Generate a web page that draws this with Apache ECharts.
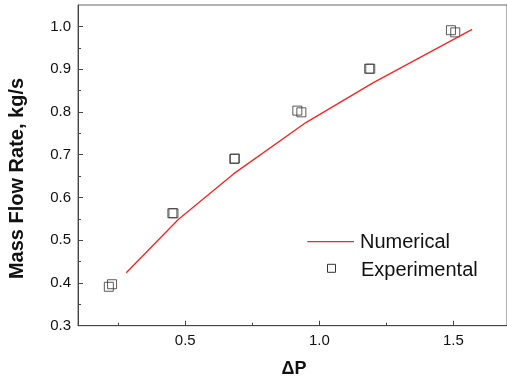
<!DOCTYPE html>
<html>
<head>
<meta charset="utf-8">
<script src="https://cdn.jsdelivr.net/npm/echarts@6/dist/echarts.min.js"></script>
<style>html,body{margin:0;padding:0;background:#fff;}#c{width:507px;height:380px;}</style>
</head>
<body>
<div id="c"></div>
<script>
// Numerical curve (ΔP, mass flow rate)
const numericalX = [0.28, 0.475, 0.68, 0.95, 1.2, 1.57];
const numericalY = [0.424, 0.549, 0.655, 0.775, 0.868, 0.993];
// Experimental points
const experimentalX = [0.215, 0.227, 0.452, 0.456, 0.683, 0.685, 0.918, 0.933, 1.186, 1.19, 1.491, 1.507];
const experimentalY = [0.391, 0.397, 0.563, 0.563, 0.690, 0.691, 0.803, 0.799, 0.901, 0.901, 0.991, 0.986];
// Axis ticks
const xMajorTicks = [0.5, 1.0, 1.5];
const xMinorTicks = [0.25, 0.75, 1.25];
const yMajorTicks = [0.3, 0.4, 0.5, 0.6, 0.7, 0.8, 0.9, 1.0];
const yMinorTicks = [0.35, 0.45, 0.55, 0.65, 0.75, 0.85, 0.95];

const axisColor = '#444';
const font = 'Arial, "Liberation Sans", sans-serif';

const chart = echarts.init(document.getElementById('c'), null, {renderer: 'canvas'});
chart.setOption({
  animation: false,
  backgroundColor: '#fff',
  grid: {left: 78, top: 5, right: -8.4, bottom: 54.3, show: true, borderColor: '#666', borderWidth: 1, backgroundColor: 'transparent'},
  xAxis: [{
    type: 'value', min: 0.1, max: 1.7,
    axisLine: {show: true, lineStyle: {color: axisColor, width: 1}},
    axisTick: {show: true, inside: true, length: 5, customValues: xMajorTicks, lineStyle: {color: axisColor}},
    axisLabel: {show: true, customValues: xMajorTicks, margin: 8, color: '#111', fontSize: 15, fontFamily: font,
      formatter: v => v.toFixed(1)},
    splitLine: {show: false}
  }, {
    type: 'value', min: 0.1, max: 1.7, position: 'bottom',
    axisLine: {show: false},
    axisTick: {show: true, inside: true, length: 3, customValues: xMinorTicks, lineStyle: {color: axisColor}},
    axisLabel: {show: false},
    splitLine: {show: false}
  }],
  yAxis: [{
    type: 'value', min: 0.3, max: 1.05,
    axisLine: {show: true, lineStyle: {color: axisColor, width: 1}},
    axisTick: {show: true, inside: true, length: 5, customValues: yMajorTicks, lineStyle: {color: axisColor}},
    axisLabel: {show: true, customValues: yMajorTicks, margin: 7, color: '#111', fontSize: 15, fontFamily: font,
      formatter: v => v.toFixed(1)},
    splitLine: {show: false}
  }, {
    type: 'value', min: 0.3, max: 1.05, position: 'left',
    axisLine: {show: false},
    axisTick: {show: true, inside: true, length: 3, customValues: yMinorTicks, lineStyle: {color: axisColor}},
    axisLabel: {show: false},
    splitLine: {show: false}
  }],
  series: [{
    name: 'Numerical', type: 'line', xAxisIndex: 0, yAxisIndex: 0,
    data: numericalX.map((x, i) => [x, numericalY[i]]),
    showSymbol: false, smooth: false,
    lineStyle: {color: '#ff2020', width: 1.3}
  }, {
    name: 'Experimental', type: 'scatter', xAxisIndex: 0, yAxisIndex: 0,
    data: experimentalX.map((x, i) => [x, experimentalY[i]]),
    symbol: 'rect', symbolSize: 9,
    itemStyle: {color: 'transparent', borderColor: '#333', borderWidth: 1}
  }],
  graphic: [
    {type: 'text', x: 17.5, y: 178.5, rotation: Math.PI / 2, style: {text: 'Mass Flow Rate, kg/s', font: 'bold 20px ' + font, fill: '#111', textAlign: 'center', textVerticalAlign: 'middle'}},
    {type: 'text', x: 294, y: 368.7, style: {text: 'ΔP', font: 'bold 18px ' + font, fill: '#111', textAlign: 'center', textVerticalAlign: 'middle'}},
    {type: 'line', shape: {x1: 307.3, y1: 241.7, x2: 354, y2: 241.7}, style: {stroke: '#ff2020', lineWidth: 1.3}},
    {type: 'text', x: 360, y: 242, style: {text: 'Numerical', font: '20px ' + font, fill: '#111', textAlign: 'left', textVerticalAlign: 'middle'}},
    {type: 'rect', shape: {x: 327.5, y: 264.3, width: 8, height: 8}, style: {fill: 'transparent', stroke: '#333', lineWidth: 1}},
    {type: 'text', x: 361, y: 270.5, style: {text: 'Experimental', font: '20px ' + font, fill: '#111', textAlign: 'left', textVerticalAlign: 'middle'}}
  ]
});
</script>
</body>
</html>
